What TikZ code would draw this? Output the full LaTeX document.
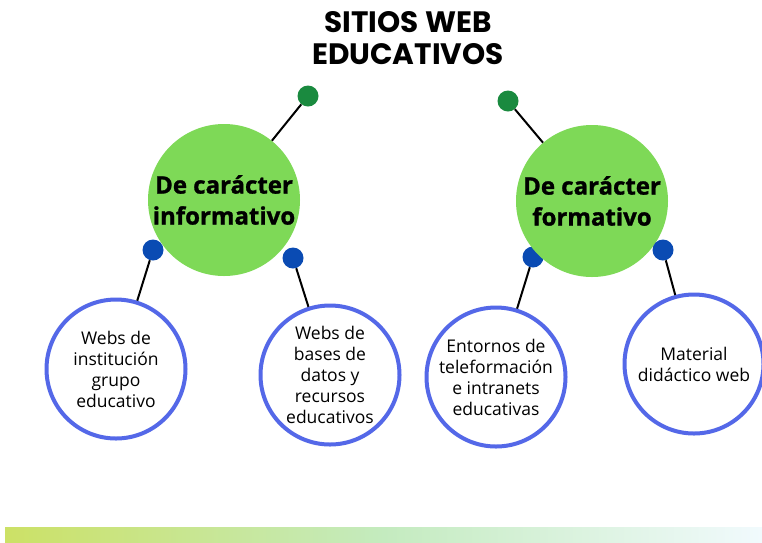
\documentclass[tikz,border=0pt]{standalone}
\usepackage{fontspec}
\setmainfont{Open Sans}
\newfontfamily\ringfont{Open Sans}
\newfontfamily\heavyfont{Open Sans}[BoldFeatures={FakeBold=1.2}]
\newfontfamily\titlefont{Poppins}
\definecolor{dotgreen}{HTML}{1A8A3F}
\definecolor{biggreen}{HTML}{7ED957}
\definecolor{dotblue}{HTML}{0A4BB3}
\definecolor{ringblue}{HTML}{5468E8}
\definecolor{barA}{HTML}{CCE166}
\definecolor{barB}{HTML}{C4EBBF}
\definecolor{barC}{HTML}{F1FAFD}
\tikzset{
  bigc/.style={circle, fill=biggreen, minimum size=152pt, inner sep=0pt, align=center,
    font=\heavyfont\fontsize{24}{31}\selectfont\bfseries},
  gdot/.style={circle, fill=dotgreen, minimum size=21pt, inner sep=0pt},
  bdot/.style={circle, fill=dotblue, minimum size=21pt, inner sep=0pt},
  ring/.style={circle, draw=ringblue, line width=4pt, fill=white, minimum size=139pt, inner sep=0pt, align=center,
    font=\ringfont\fontsize{17.5}{21}\selectfont},
  link/.style={line width=2pt, black}
}
\begin{document}
\begin{tikzpicture}[x=1pt,y=-1pt]
\useasboundingbox (0,0) rectangle (762,542);
\fill[white] (0,0) rectangle (762,542);
% bottom bar
\shade[left color=barA, right color=barC, middle color=barB] (5,527) rectangle (762,542);
% title
\node[font=\titlefont\fontsize{29.5}{31.5}\selectfont\bfseries, align=center] (title) at (408,38) {SITIOS WEB\\EDUCATIVOS};
% nodes
\node[bdot] (b3) at (533,257) {};
\node[bigc] (L) at (224,200) {De carácter\\informativo};
\node[bigc] (R) at (592,201) {De carácter\\formativo};
\node[gdot] (gL) at (308,96) {};
\node[gdot] (gR) at (508,101) {};
\node[ring] (c1) at (116,369) {Webs de\\institución\\grupo\\educativo};
\node[ring] (c2) at (330,375) {Webs de\\bases de\\datos y\\recursos\\educativos};
\node[ring] (c3) at (496,377) {Entornos de\\teleformación\\e intranets\\educativas};
\node[ring] (c4) at (694,364) {Material\\didáctico web};
\node[bdot] (b1) at (153,250) {};
\node[bdot] (b2) at (293,258) {};
\node[bdot] (b4) at (663,250) {};
% connectors
\draw[link] (gL) -- (L);
\draw[link] (gR) -- (R);
\draw[link] (b1) -- (c1);
\draw[link] (b2) -- (c2);
\draw[link] (b3) -- (c3);
\draw[link] (b4) -- (c4);
\end{tikzpicture}
\end{document}
